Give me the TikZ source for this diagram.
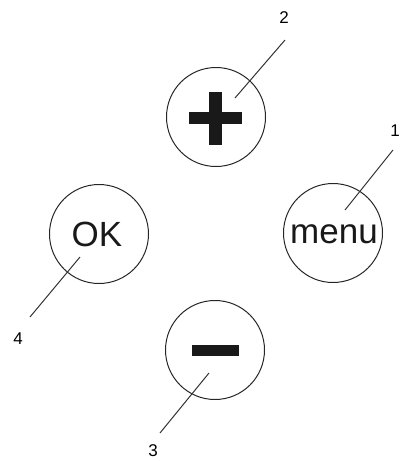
\documentclass[tikz,border=0pt]{standalone}
\usepackage{fontspec}
\setmainfont{Liberation Sans}
\begin{document}
\begin{tikzpicture}[x=1pt,y=-1pt,
  btn/.style={circle,draw=black!85,line width=1pt,minimum size=99pt,inner sep=0pt},
  lead/.style={draw=black!80,line width=1pt},
  num/.style={font=\fontsize{17}{17}\selectfont,inner sep=0pt},
  big/.style={font=\fontsize{35}{35}\selectfont,inner sep=0pt,text=black!90},
  bar/.style={fill=black!90,draw=none}]
\useasboundingbox (0,0) rectangle (401,461);
\node[btn] (plus) at (216,117) {};
\node[btn] (menu) at (333,233) {};
\node[btn] (ok) at (99,234) {};
\node[btn] (minus) at (215,350) {};
% plus sign
\fill[bar] (189,112) rectangle (242,124);
\fill[bar] (209,92) rectangle (222,145);
% minus sign
\fill[bar] (192,345) rectangle (239,356);
% texts
\node[big] (menutxt) at (334,234) {menu};
\node[big] (oktxt) at (97,234) {OK};
% labels
\node[num] (n1) at (395,131) {1};
\node[num] (n2) at (284,18) {2};
\node[num] (n3) at (153,451) {3};
\node[num] (n4) at (18,339) {4};
\coordinate (e1a) at (345,210); \coordinate (e1b) at (393,150);
\coordinate (e2a) at (235,98); \coordinate (e2b) at (285,40);
\coordinate (e3a) at (209,373); \coordinate (e3b) at (160,433);
\coordinate (e4a) at (80,257); \coordinate (e4b) at (30,317);
\draw[lead] (e1a) -- (e1b);
\draw[lead] (e2a) -- (e2b);
\draw[lead] (e3a) -- (e3b);
\draw[lead] (e4a) -- (e4b);
\end{tikzpicture}
\end{document}
